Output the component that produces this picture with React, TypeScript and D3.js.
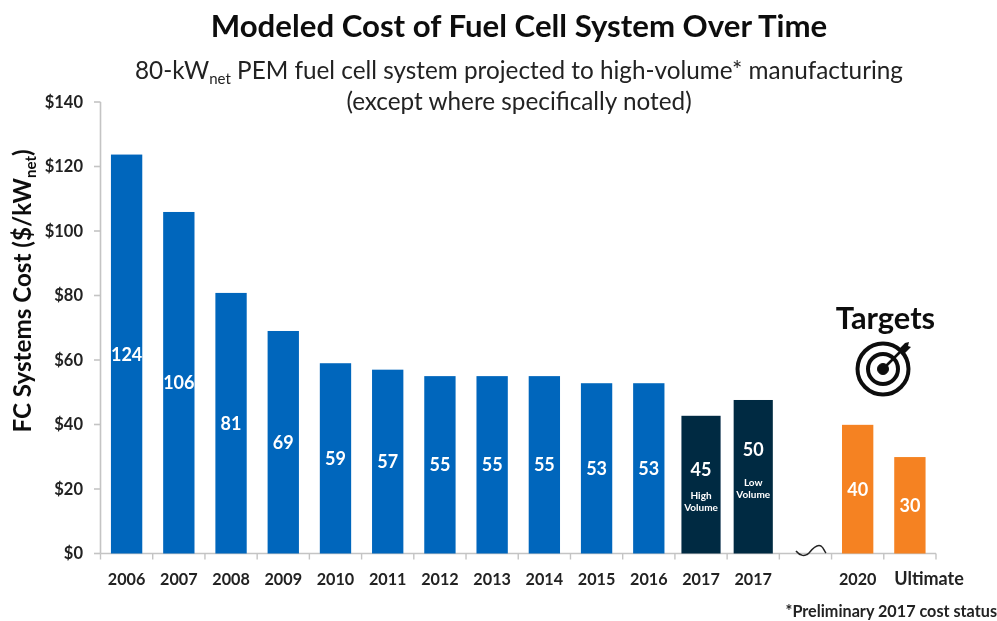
import React from "react";
import * as d3 from "d3";

const categories = ["2006","2007","2008","2009","2010","2011","2012","2013","2014","2015","2016","2017 H","2017 L","gap","2020","Ultimate"];
const tickLabels = ["2006","2007","2008","2009","2010","2011","2012","2013","2014","2015","2016","2017","2017","","2020","Ultimate"];
const barValues = [123.7,105.9,80.8,69,59,57,55,55,55,52.8,52.8,42.7,47.6,null,39.9,29.9];
const barLabels = ["124","106","81","69","59","57","55","55","55","53","53","45","50","","40","30"];
const barColors = ["b","b","b","b","b","b","b","b","b","b","b","d","d","","o","o"];
const yTicks = [0,20,40,60,80,100,120,140];
const palette: Record<string,string> = { b: "#0066BC", d: "#032B43", o: "#F58220" };
const FONT = "Lato, 'Open Sans', sans-serif";

export default function App() {
  const x = d3.scaleBand<string>().domain(categories).range([100.5, 936]).paddingInner(0.4).paddingOuter(0.2);
  const y = d3.scaleLinear().domain([0, 140]).range([553.5, 102]);
  const step = x.step();
  const edges = d3.range(categories.length + 1).map(i => 100.5 + i * step);
  const cxOf = (c: string) => x(c)! + x.bandwidth() / 2;
  const sub = { fontSize: 6.5 };
  return (
    <svg width={997} height={621} style={{ position: "absolute", left: 0, top: 0, background: "#fff" }} fontFamily={FONT}>
      <defs>
        <filter id="soft" x="-5%" y="-5%" width="110%" height="110%"><feGaussianBlur stdDeviation="0.75" /></filter>
      </defs>
      <g filter="url(#soft)">
        <text x={519} y={37} textAnchor="middle" fontSize={31.2} fontWeight={700} fill="#111">Modeled Cost of Fuel Cell System Over Time</text>
        <text x={519} y={79} textAnchor="middle" fontSize={24.3} fill="#222">80-kW<tspan fontSize={15} dy={5}>net</tspan><tspan dy={-5}> PEM fuel cell system projected to high-volume* manufacturing</tspan></text>
        <text x={519} y={110} textAnchor="middle" fontSize={24.3} fill="#222">(except where specifically noted)</text>

        <line x1={100.5} x2={100.5} y1={y(140)} y2={y(0)} stroke="#C4C4C4" strokeWidth={1.6} />
        <line x1={100.5} x2={936} y1={y(0)} y2={y(0)} stroke="#C4C4C4" strokeWidth={1.6} />
        {yTicks.map(t => (
          <g key={t}>
            <line x1={94} x2={100.5} y1={y(t)} y2={y(t)} stroke="#C4C4C4" strokeWidth={1.6} />
            <text x={83} y={y(t) + 5.5} textAnchor="end" fontSize={16.5} fontWeight={700} fill="#222">${t}</text>
          </g>
        ))}
        {edges.map((e, i) => <line key={i} x1={e} x2={e} y1={y(0)} y2={y(0) + 6} stroke="#C4C4C4" strokeWidth={1.4} />)}

        <text transform="translate(31,291) rotate(-90)" textAnchor="middle" fontSize={24.2} fontWeight={700} fill="#111">FC Systems Cost ($/kW<tspan fontSize={15} dy={5}>net</tspan><tspan dy={-5}>)</tspan></text>

        {categories.map((c, i) => {
          const v = barValues[i];
          const isDark = barColors[i] === "d";
          const w = isDark ? x.bandwidth() * 1.25 : x.bandwidth();
          const cx = cxOf(c);
          return (
            <g key={c}>
              {v != null && <rect x={cx - w / 2} y={y(v)} width={w} height={y(0) - y(v)} fill={palette[barColors[i]]} />}
              {v != null && !isDark && (
                <text x={cx} y={(y(v) + y(0)) / 2 + 6.5} textAnchor="middle" fontSize={18} fontWeight={700} fill="#fff">{barLabels[i]}</text>
              )}
              {c !== "Ultimate" && <text x={cx} y={584.5} textAnchor="middle" fontSize={16.2} fontWeight={700} fill="#222">{tickLabels[i]}</text>}
            </g>
          );
        })}
        <text x={929} y={584.5} textAnchor="middle" fontSize={18} fontWeight={700} fill="#222">{tickLabels[15]}</text>

        <text x={cxOf("2017 H")} y={476} textAnchor="middle" fontSize={18} fontWeight={700} fill="#fff">{barLabels[11]}</text>
        <text x={cxOf("2017 H")} y={499} textAnchor="middle" fontSize={10} fontWeight={700} fill="#fff">High</text>
        <text x={cxOf("2017 H")} y={511} textAnchor="middle" fontSize={10} fontWeight={700} fill="#fff">Volume</text>
        <text x={cxOf("2017 L")} y={455.5} textAnchor="middle" fontSize={18} fontWeight={700} fill="#fff">{barLabels[12]}</text>
        <text x={cxOf("2017 L")} y={486} textAnchor="middle" fontSize={10} fontWeight={700} fill="#fff">Low</text>
        <text x={cxOf("2017 L")} y={498} textAnchor="middle" fontSize={10} fontWeight={700} fill="#fff">Volume</text>

        <path d="M796 551 C800 556 805 557 809 553 C813 548 817 544 821 546 C824 548 824 551 826 553" fill="none" stroke="#222" strokeWidth={1.5} />

        <text x={885.5} y={329} textAnchor="middle" fontSize={30.8} fontWeight={700} fill="#111">Targets</text>
        <g fill="none" stroke="#111">
          <circle cx={883} cy={369} r={25.5} strokeWidth={4} />
          <circle cx={883} cy={369} r={15} strokeWidth={4} />
          <circle cx={883} cy={369} r={5.5} fill="#111" strokeWidth={1} />
          <line x1={883} y1={369} x2={904} y2={348} strokeWidth={2.5} />
        </g>
        <path d="M899 349 L905 343 L909 342 L908 346 L911 347 L904 354 Z" fill="#111" />

        <text x={997} y={617} textAnchor="end" fontSize={16.2} fontWeight={700} fill="#222">*Preliminary 2017 cost status</text>
      </g>
    </svg>
  );
}
